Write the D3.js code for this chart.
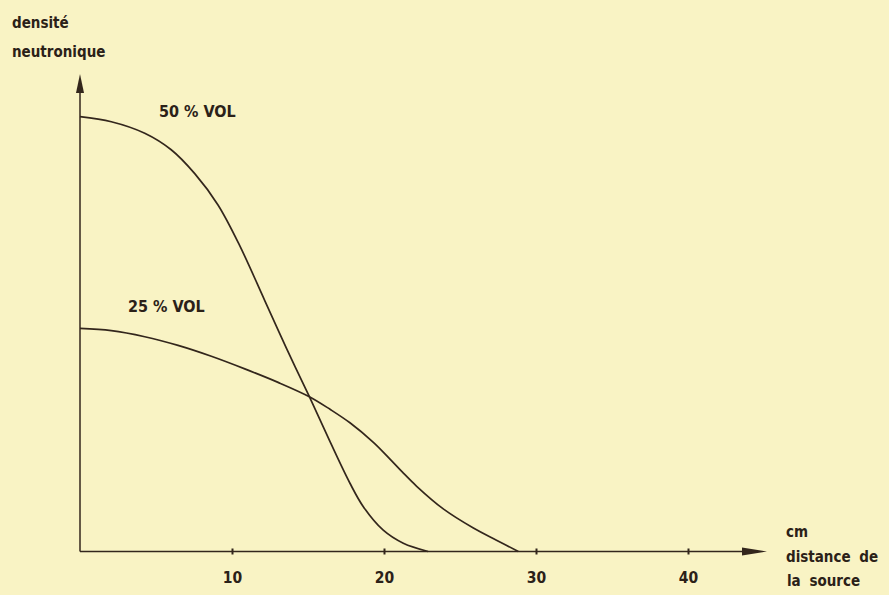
<!DOCTYPE html>
<html>
<head>
<meta charset="utf-8">
<script src="https://cdn.jsdelivr.net/npm/d3@7"></script>
<style>
  html, body { margin: 0; padding: 0; background: #f9f3c4; }
  svg { display: block; }
  text { font-family: "Liberation Sans Narrow", "DejaVu Sans Condensed", "Roboto Condensed", sans-serif; font-weight: bold; fill: #2b2118; }
</style>
</head>
<body>
<svg id="chart" width="889" height="595"></svg>
<script>
// ---- data ----
const xTicks = [10, 20, 30, 40];
const xTickLabels = ["10", "20", "30", "40"];
const yAxisTitle = ["densité", "neutronique"];
const xAxisTitle = ["cm", "distance de", "la source"];
const seriesNames = ["50 % VOL", "25 % VOL"];

const x50 = [0, 2.06, 4.26, 6.0, 7.55, 9.08, 10.5, 12.17, 13.6, 15.09, 16.45, 17.76, 18.64, 19.95, 21.27, 22.9];
const y50 = [100, 98.85, 96.2, 92.4, 86.9, 79.7, 70.4, 57.6, 46.6, 35.6, 25.25, 15.7, 10.3, 4.9, 1.9, 0];

const x25 = [0, 2.06, 4.26, 6.45, 8.64, 10.84, 13.03, 15.09, 16.45, 17.76, 19.3, 20.3, 21.2, 22.15, 23.9, 25.88, 27.4, 28.84];
const y25 = [51.3, 50.8, 49.4, 47.4, 44.9, 42.0, 38.9, 35.6, 32.7, 29.6, 25.1, 21.6, 18.3, 15.0, 9.8, 5.4, 2.6, 0];

// ---- layout ----
const svg = d3.select("#chart");
const ink = "#33261c";
const x0 = 80, y0 = 551.5;
const x = d3.scaleLinear().domain([0, 10]).range([x0, x0 + 152]);
const y = d3.scaleLinear().domain([0, 100]).range([y0, 116.7]);

// background
svg.append("rect").attr("width", 889).attr("height", 595).attr("fill", "#f9f3c4");

// x axis (d3 axis for ticks)
const xAxis = d3.axisBottom(x).tickValues(xTicks).tickSize(0).tickFormat((d, i) => xTickLabels[i]);
const gx = svg.append("g").attr("transform", `translate(0,${y0})`).call(xAxis);
gx.select(".domain").remove();
gx.selectAll("text").attr("dy", null).attr("y", 31).attr("font-size", 15.5)
  .style("font-family", '"Liberation Sans Narrow","DejaVu Sans Condensed",sans-serif')
  .style("font-weight", "bold").attr("fill", "#2b2118");
gx.selectAll(".tick").append("line").attr("y1", -3).attr("y2", 3).attr("stroke", ink).attr("stroke-width", 2);

// axis lines
svg.append("line").attr("x1", x0).attr("x2", 745).attr("y1", y0).attr("y2", y0).attr("stroke", ink).attr("stroke-width", 1.5);
svg.append("line").attr("x1", x0).attr("x2", x0).attr("y1", y0).attr("y2", 88).attr("stroke", ink).attr("stroke-width", 1.5);
// arrow heads
svg.append("path").attr("d", `M767,${y0} L742,${y0 - 4} L742,${y0 + 4} Z`).attr("fill", ink);
svg.append("path").attr("d", `M${x0},74 L${x0 - 4},93 L${x0 + 4},93 Z`).attr("fill", ink);

// curves
const line = d3.line().x(d => x(d[0])).y(d => y(d[1])).curve(d3.curveCatmullRom.alpha(0.5));
const s50 = x50.map((v, i) => [v, y50[i]]);
const s25 = x25.map((v, i) => [v, y25[i]]);
[s50, s25].forEach(s => {
  svg.append("path").datum(s).attr("d", line).attr("fill", "none").attr("stroke", ink).attr("stroke-width", 1.7);
});

// series labels
svg.append("text").attr("x", 159).attr("y", 117).attr("font-size", 16).text(seriesNames[0]);
svg.append("text").attr("x", 128).attr("y", 312).attr("font-size", 16).text(seriesNames[1]);

// axis titles
svg.append("text").attr("x", 12).attr("y", 28).attr("font-size", 15).text(yAxisTitle[0]);
svg.append("text").attr("x", 12).attr("y", 57).attr("font-size", 15).text(yAxisTitle[1]);
svg.append("text").attr("x", 786).attr("y", 537).attr("font-size", 15).text(xAxisTitle[0]);
svg.append("text").attr("x", 786).attr("y", 562).attr("font-size", 15).attr("word-spacing", 4).text(xAxisTitle[1]);
svg.append("text").attr("x", 787).attr("y", 586).attr("font-size", 15).attr("word-spacing", 4).text(xAxisTitle[2]);
</script>
</body>
</html>
